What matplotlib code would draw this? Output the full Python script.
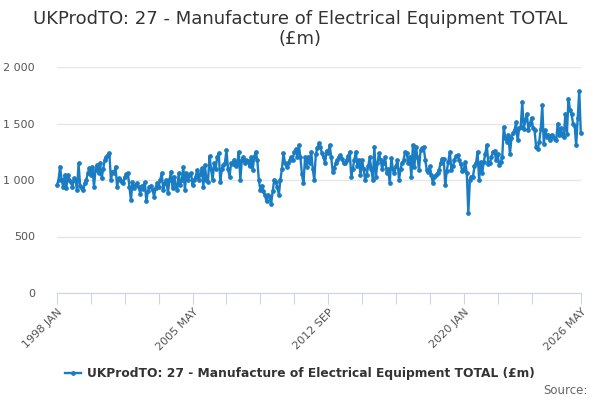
import numpy as np
import matplotlib
matplotlib.use("Agg")
import matplotlib.pyplot as plt
from matplotlib.lines import Line2D

# monthly values, 1998 JAN .. 2026 MAY
v1998 = [956, 1000, 1118, 1000, 941, 1044, 927, 1044, 1000, 985, 941, 1015]
v1999 = [1000, 912, 1147, 950, 927, 912, 970, 1000, 1059, 1103, 1044, 1118]
v2000 = [941, 1090, 1132, 1060, 1147, 1015, 1100, 1176, 1206, 1220, 1235, 1000]
v2001 = [1074, 1059, 1118, 941, 1015, 1000, 985, 970, 1030, 1050, 1059, 941]
v2002 = [824, 980, 930, 960, 970, 941, 880, 950, 920, 980, 810, 900]
v2003 = [941, 950, 912, 853, 930, 970, 941, 1000, 1059, 912, 970, 1000]
v2004 = [882, 1000, 1074, 927, 1030, 960, 912, 1059, 956, 1000, 1118, 912]
v2005 = [1059, 1000, 1044, 1060, 956, 1000, 1030, 1088, 1000, 1050, 1103, 941]
v2006 = [1132, 1000, 985, 1212, 1100, 1000, 1147, 1100, 1206, 1235, 985, 1100]
v2007 = [1132, 1150, 1265, 1100, 1030, 1147, 1140, 1180, 1120, 1150, 1250, 1000]
v2008 = [1180, 1200, 1150, 1176, 1170, 1120, 1200, 1090, 1200, 1250, 1180, 1000]
v2009 = [910, 950, 900, 865, 810, 870, 850, 790, 900, 1000, 985, 940]
v2010 = [870, 1000, 1100, 1235, 1150, 1118, 1150, 1176, 1200, 1180, 1250, 1270]
v2011 = [1200, 1310, 1200, 1050, 970, 1200, 1118, 1200, 1147, 1250, 1100, 1000]
v2012 = [1230, 1280, 1324, 1290, 1235, 1200, 1150, 1260, 1240, 1310, 1200, 1075]
v2013 = [1104, 1150, 1180, 1206, 1220, 1190, 1150, 1147, 1180, 1210, 1250, 1030]
v2014 = [1100, 1180, 1250, 1120, 1180, 1045, 1176, 1100, 1000, 1045, 1120, 1200]
v2015 = [1100, 1000, 1294, 1030, 1150, 1235, 1180, 1100, 1150, 1200, 1060, 1100]
v2016 = [970, 1191, 1100, 1059, 1120, 1176, 1000, 1100, 1150, 1180, 1250, 1235]
v2017 = [1150, 1206, 1030, 1310, 1118, 1294, 1200, 1088, 1265, 1280, 1294, 1180]
v2018 = [1090, 1070, 1120, 1045, 970, 1030, 1045, 1060, 1090, 1150, 1190, 1190]
v2019 = [960, 1080, 1160, 1250, 1090, 1120, 1180, 1210, 1220, 1180, 1140, 1080]
v2020 = [1090, 1160, 1060, 710, 1000, 1030, 1030, 1120, 1150, 1250, 1000, 1160]
v2021 = [1060, 1160, 1230, 1310, 1140, 1150, 1200, 1250, 1260, 1175, 1230, 1130]
v2022 = [1160, 1200, 1470, 1370, 1340, 1400, 1232, 1370, 1420, 1440, 1510, 1350]
v2023 = [1460, 1470, 1690, 1450, 1530, 1585, 1440, 1500, 1550, 1460, 1440, 1290]
v2024 = [1270, 1340, 1450, 1660, 1320, 1440, 1380, 1400, 1350, 1400, 1380, 1360]
v2025 = [1350, 1500, 1400, 1460, 1400, 1380, 1585, 1410, 1720, 1620, 1580, 1500]
v2026 = [1480, 1306, 1550, 1790, 1420]

values = (v1998 + v1999 + v2000 + v2001 + v2002 + v2003 + v2004 + v2005 + v2006
          + v2007 + v2008 + v2009 + v2010 + v2011 + v2012 + v2013 + v2014 + v2015
          + v2016 + v2017 + v2018 + v2019 + v2020 + v2021 + v2022 + v2023 + v2024
          + v2025 + v2026)

label_pos = [0, 88, 176, 264, 340]
tick_labels = ["1998 JAN", "2005 MAY", "2012 SEP", "2020 JAN", "2026 MAY"]
series_name = "UKProdTO: 27 - Manufacture of Electrical Equipment TOTAL (£m)"

color = "#1a7dc4"
x = np.arange(len(values))

fig = plt.figure(figsize=(6, 4), dpi=100)
ax = fig.add_axes([0.095, 0.2675, 0.873, 0.565])

ax.plot(x, values, color=color, lw=1.7, marker="o", ms=2.4, clip_on=False, zorder=3)

ax.set_xlim(0, len(values) - 1)
ax.set_ylim(0, 2000)
ax.set_yticks([0, 500, 1000, 1500, 2000])
ax.set_yticklabels(["0", "500", "1 000", "1 500", "2 000"])
ax.grid(axis="y", color="#e6e6e6", lw=1)
ax.set_axisbelow(True)

minor = list(range(0, 330, 22)) + [340]
ax.set_xticks(minor)
ax.set_xticklabels([tick_labels[label_pos.index(m)] if m in label_pos else "" for m in minor],
                   rotation=45, ha="right", rotation_mode="anchor")
ax.tick_params(axis="x", length=8, color="#ccd6eb", colors="#555555", labelsize=8, pad=2)
ax.tick_params(axis="x", which="both", color="#ccd6eb")
ax.tick_params(axis="y", length=0, colors="#555555", labelsize=8, pad=16)

for s in ["top", "right", "left"]:
    ax.spines[s].set_visible(False)
ax.spines["bottom"].set_color("#ccd6eb")

fig.text(0.5, 0.975, "UKProdTO: 27 - Manufacture of Electrical Equipment TOTAL\n(£m)",
         ha="center", va="top", fontsize=13, color="#333333", linespacing=1.15)

handle = Line2D([], [], color=color, lw=1.7, marker="o", ms=2.4)
fig.legend([handle], [series_name], loc="center", bbox_to_anchor=(0.5, 0.065),
           frameon=False, handlelength=1.3, handletextpad=0.5,
           prop={"weight": "bold", "size": 8.8}, labelcolor="#333333")

fig.text(0.98, 0.025, "Source:", ha="right", va="center", fontsize=8.5, color="#666666")

fig.savefig("out.png", dpi=100)
